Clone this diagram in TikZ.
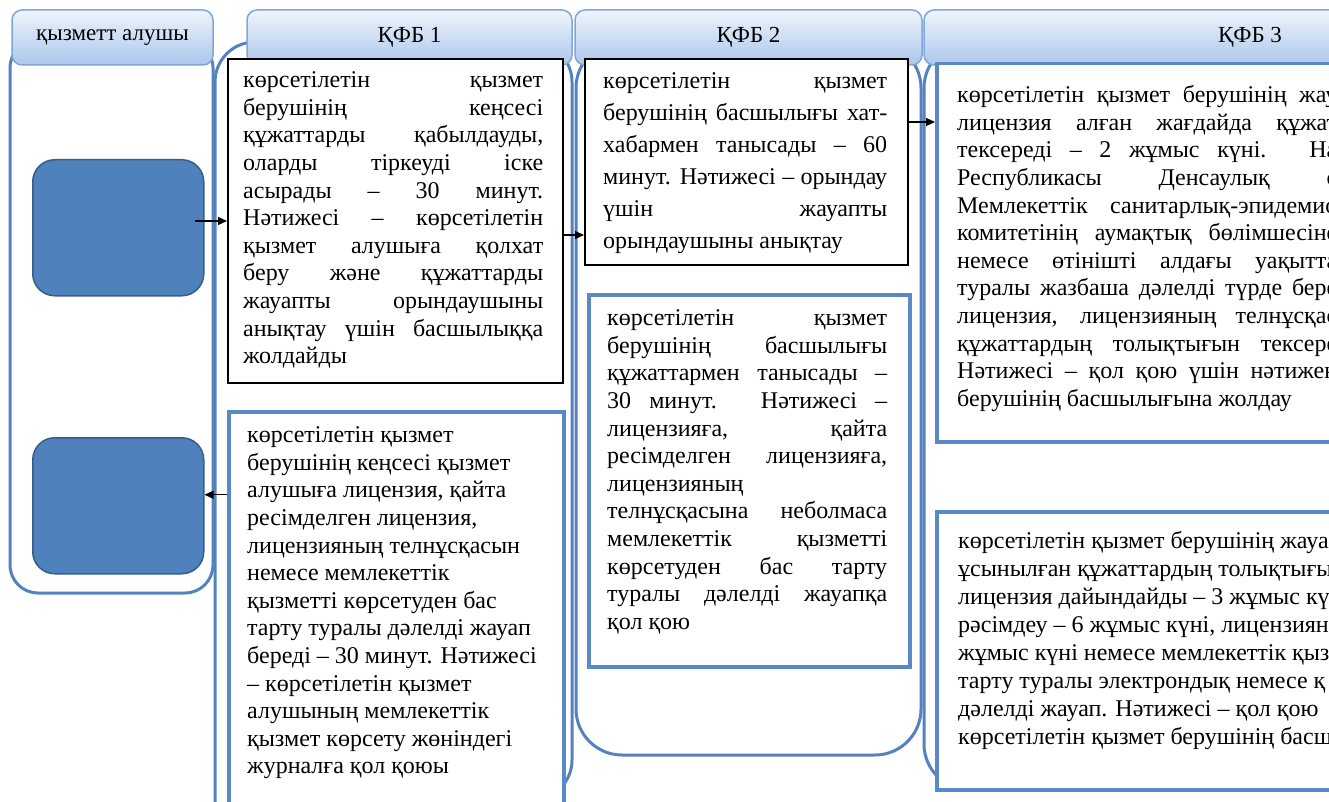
\documentclass[tikz,border=0pt]{standalone}
\usepackage{fontspec}
\setmainfont{Liberation Serif}
\newfontfamily\tnr{Liberation Serif}
\usetikzlibrary{arrows.meta}
\definecolor{laneblue}{RGB}{84,130,190}
\definecolor{boxblue}{RGB}{90,138,198}
\definecolor{rectfill}{RGB}{79,129,189}
\definecolor{rectdraw}{RGB}{56,93,138}
\definecolor{hdrtop}{RGB}{238,244,252}
\definecolor{hdrbot}{RGB}{172,199,236}
\definecolor{hdrline}{RGB}{128,166,218}
\newcommand\J[2]{\makebox[#1][s]{#2}}
\begin{document}
\begin{tikzpicture}[x=1pt,y=-1pt,
  lane/.style={draw=laneblue, line width=3pt},
  hdr/.style={draw=hdrline, line width=1.5pt, rounded corners=10pt, top color=hdrtop, bottom color=hdrbot, minimum height=55pt, inner sep=0pt, font=\tnr\fontsize{23pt}{27pt}\selectfont},
  kbox/.style={draw=black, line width=2pt, fill=white, inner sep=0pt, anchor=north west},
  bbox/.style={draw=boxblue, line width=3.5pt, fill=white, inner sep=0pt, anchor=north west},
  brect/.style={draw=rectdraw, line width=1.5pt, fill=rectfill, rounded corners=22pt, inner sep=0pt, anchor=north west},
  txt/.style={anchor=north west, inner sep=0pt, align=left, font=\tnr\fontsize{24pt}{27.6pt}\selectfont},
  arr/.style={-{Triangle[length=9pt,width=8pt]}, line width=1.2pt}]
\useasboundingbox (0,0) rectangle (1329,802);
\clip (0,0) rectangle (1329,802);
% lanes
\draw[lane, rounded corners=28pt] (10,40) rectangle (213,593);
\draw[lane, rounded corners=40pt] (215,830) -- (215,42) -- (572,42) -- (572,800) -- (480,800);
\draw[lane, rounded corners=46pt] (576,42) rectangle (921,755);
\draw[lane, rounded corners=46pt] (924,42) rectangle (1600,790);
% headers
\node[hdr, minimum width=201pt] (h1) at (112.5,37.5) {қызметт алушы};
\node[hdr, minimum width=325pt] (h2) at (409.5,37.5) {ҚФБ 1};
\node[hdr, minimum width=347pt] (h3) at (748.5,37.5) {ҚФБ 2};
\node[hdr, minimum width=652pt] (h4) at (1250,37.5) {ҚФБ 3};
% client rects
\node[brect, minimum width=171pt, minimum height=136pt] (R1) at (32,159) {};
\node[brect, minimum width=171pt, minimum height=136pt] (R2) at (32,437) {};
% boxes
\node[kbox, minimum width=335pt, minimum height=324pt] (A) at (227,58) {};
\node[kbox, minimum width=323pt, minimum height=206pt] (B) at (584,58) {};
\node[bbox, minimum width=321pt, minimum height=372pt] (C) at (587,293) {};
\node[bbox, minimum width=600pt, minimum height=378pt] (D) at (935,62) {};
\node[bbox, minimum width=600pt, minimum height=278pt] (E) at (935,510) {};
\node[bbox, minimum width=335pt, minimum height=450pt] (F) at (227,410) {};
% texts
\node[txt] (tA) at (243,68.2) {\strut\J{300pt}{көрсетілетін қызмет}\\
\J{300pt}{берушінің кеңсесі}\\
\J{300pt}{құжаттарды қабылдауды,}\\
\J{300pt}{оларды тіркеуді іске}\\
\J{300pt}{асырады – 30 минут.}\\
\J{300pt}{Нәтижесі – көрсетілетін}\\
\J{300pt}{қызмет алушыға қолхат}\\
\J{300pt}{беру және құжаттарды}\\
\J{300pt}{жауапты орындаушыны}\\
\J{300pt}{анықтау үшін басшылыққа}\\
жолдайды};
\node[txt, font=\tnr\fontsize{24pt}{32pt}\selectfont] (tB) at (603,66.1) {\strut\J{284pt}{көрсетілетін қызмет}\\
\J{284pt}{берушінің басшылығы хат-}\\
\J{284pt}{хабармен танысады – 60}\\
\J{284pt}{минут. Нәтижесі – орындау}\\
\J{284pt}{үшін жауапты}\\
орындаушыны анықтау};
\node[txt] (tC) at (607,306.2) {\strut\J{280pt}{көрсетілетін қызмет}\\
\J{280pt}{берушінің басшылығы}\\
\J{280pt}{құжаттармен танысады –}\\
\J{280pt}{30 минут. Нәтижесі –}\\
\J{280pt}{лицензияға, қайта}\\
\J{280pt}{ресімделген лицензияға,}\\
лицензияның\\
\J{280pt}{телнұсқасына неболмаса}\\
\J{280pt}{мемлекеттік қызметті}\\
\J{280pt}{көрсетуден бас тарту}\\
\J{280pt}{туралы дәлелді жауапқа}\\
қол қою};
\node[txt] (tD) at (957,83.2) {\strut\J{380pt}{көрсетілетін қызмет берушінің жау}\\
\J{380pt}{лицензия алған жағдайда құжат}\\
\J{380pt}{тексереді – 2 жұмыс күні. На}\\
\J{380pt}{Республикасы Денсаулық с}\\
\J{380pt}{Мемлекеттік санитарлық-эпидемио}\\
\J{380pt}{комитетінің аумақтық бөлімшесіне}\\
\J{380pt}{немесе өтінішті алдағы уақытта}\\
\J{380pt}{туралы жазбаша дәлелді түрде бере}\\
\J{380pt}{лицензия, лицензияның телнұсқас}\\
\J{380pt}{құжаттардың толықтығын тексере}\\
\J{380pt}{Нәтижесі – қол қою үшін нәтижен}\\
берушінің басшылығына жолдау};
\node[txt, font=\tnr\fontsize{24pt}{27.9pt}\selectfont] (tE) at (958,529) {\strut көрсетілетін қызмет берушінің жауа\\
ұсынылған құжаттардың толықтығы\\
лицензия дайындайды – 3 жұмыс кү\\
рәсімдеу – 6 жұмыс күні, лицензиян\\
жұмыс күні немесе мемлекеттік қыз\\
тарту туралы электрондық немесе қ\\
дәлелді жауап. Нәтижесі – қол қою\\
көрсетілетін қызмет берушінің басш};
\node[txt] (tF) at (247,423.2) {\strut көрсетілетін қызмет\\
берушінің кеңсесі қызмет\\
алушыға лицензия, қайта\\
ресімделген лицензия,\\
лицензияның телнұсқасын\\
немесе мемлекеттік\\
қызметті көрсетуден бас\\
тарту туралы дәлелді жауап\\
береді – 30 минут. Нәтижесі\\
– көрсетілетін қызмет\\
алушының мемлекеттік\\
қызмет көрсету жөніндегі\\
журналға қол қоюы};
% arrows
\draw[arr] ([xshift=-10pt]R1.east |- A.west) -- (A.west);
\draw[arr] ([yshift=-14pt]A.east) -- ([yshift=-14pt]A.east -| B.west);
\draw[arr] ([yshift=40pt]B.east) -- ([yshift=40pt]B.east -| D.west);
\draw[arr] ([yshift=11pt]R2.east -| F.west) -- ([yshift=11pt]R2.east);
\end{tikzpicture}
\end{document}
